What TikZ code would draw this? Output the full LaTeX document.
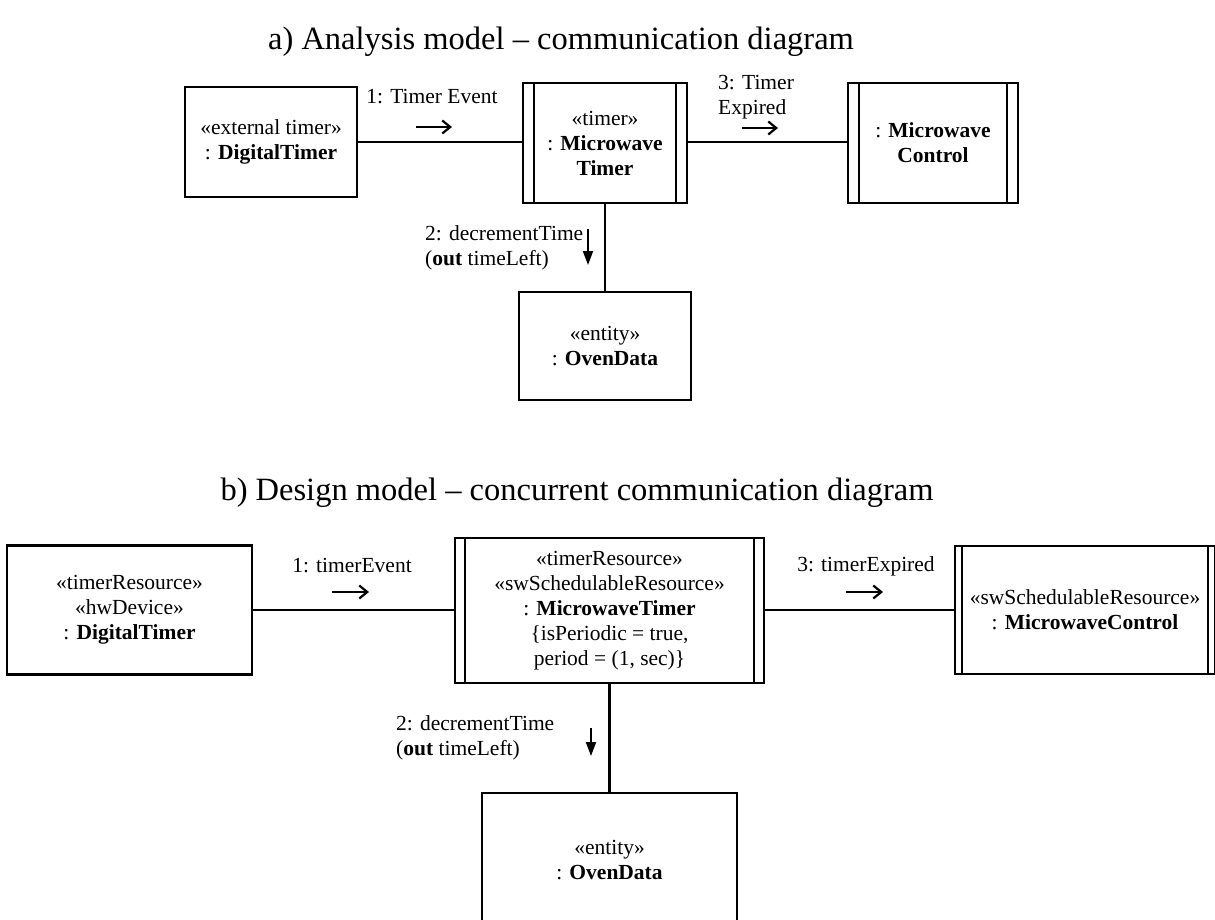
\documentclass[tikz,border=0pt]{standalone}
\usepackage{fontspec}
\setmainfont{Liberation Serif}
\usetikzlibrary{arrows.meta}

\begin{document}
\begin{tikzpicture}[x=1pt,y=-1pt,
  txt/.style={font=\fontsize{21.5}{25}\selectfont},
  obj/.style={draw, line width=2.2pt, rectangle, inner sep=0pt, align=center, txt},
  active/.style={obj, path picture={
      \draw[line width=2.2pt]
        ([xshift=#1]path picture bounding box.north west) -- ([xshift=#1]path picture bounding box.south west)
        ([xshift=-#1]path picture bounding box.north east) -- ([xshift=-#1]path picture bounding box.south east);}},
  active/.default=11pt,
  lab/.style={txt, inner sep=0pt, align=left},
  title/.style={font=\fontsize{32.5}{36}\selectfont, inner sep=0pt},
  conn/.style={line width=2.2pt},
  msgh/.style={line width=2.2pt, -{Straight Barb[length=8pt,width=13pt,line width=2.2pt]}},
  msgv/.style={line width=2pt, -{Triangle[length=14pt,width=10pt]}}
]
\useasboundingbox (0,0) rectangle (1215,920);
\clip (0,0) rectangle (1215,920);

% ---------- a) analysis model ----------
\node[title] (ta) at (561,42) {a) Analysis model -- communication diagram};

\node[obj, minimum width=172pt, minimum height=110pt] (adt) at (271,142)
  {«external timer»\\: \textbf{DigitalTimer}};
\node[active=11pt, minimum width=164pt, minimum height=120pt] (amt) at (605,143)
  {«timer»\\: \textbf{Microwave}\\\textbf{Timer}};
\node[active=11pt, minimum width=170pt, minimum height=120pt] (amc) at (933,143)
  {: \textbf{Microwave}\\\textbf{Control}};
\node[obj, minimum width=172pt, minimum height=108pt] (aod) at (605,346)
  {«entity»\\: \textbf{OvenData}};

\draw[conn] (adt.east) -- (adt.east -| amt.west);
\draw[conn] (amt.east |- adt.east) -- (amc.west |- adt.east);
\draw[conn] (amt.south) -- (aod.north);

\node[lab] (la1) at (432,97) {1: Timer Event};
\coordinate (a1s) at (416,127);
\coordinate (a1e) at (452,127);
\draw[msgh] (a1s) -- (a1e);

\node[lab, anchor=west] (la3) at (718,97) {3: Timer\\Expired};
\coordinate (a3s) at (742,128);
\coordinate (a3e) at (778,128);
\draw[msgh] (a3s) -- (a3e);

\node[lab, anchor=west] (la2) at (425,248) {2: decrementTime\\(\textbf{out} timeLeft)};
\coordinate (a2s) at (588,229);
\coordinate (a2e) at (588,265);
\draw[msgv] (a2s) -- (a2e);

% ---------- b) design model ----------
\node[title] (tb) at (577,493) {b) Design model -- concurrent communication diagram};

\node[obj, minimum width=245pt, minimum height=129pt] (bdt) at (129.5,610)
  {«timerResource»\\«hwDevice»\\: \textbf{DigitalTimer}};
\node[active=10pt, minimum width=309pt, minimum height=145pt] (bmt) at (609.5,610.5)
  {«timerResource»\\«swSchedulableResource»\\: \textbf{MicrowaveTimer}\\\{isPeriodic = true,\\period = (1, sec)\}};
\node[active=7pt, minimum width=260pt, minimum height=128pt] (bmc) at (1085,610)
  {«swSchedulableResource»\\: \textbf{MicrowaveControl}};
\node[obj, minimum width=255pt, minimum height=134pt] (bod) at (609.5,860)
  {«entity»\\: \textbf{OvenData}};

\draw[conn] (bdt.east) -- (bdt.east -| bmt.west);
\draw[conn] (bmt.east |- bmc.west) -- (bmc.west);
\draw[conn] (bmt.south) -- (bod.north);

\node[lab] (lb1) at (352,566) {1: timerEvent};
\coordinate (b1s) at (332,592);
\coordinate (b1e) at (369,592);
\draw[msgh] (b1s) -- (b1e);

\node[lab] (lb3) at (866,566) {3: timerExpired};
\coordinate (b3s) at (846,592);
\coordinate (b3e) at (883,592);
\draw[msgh] (b3s) -- (b3e);

\node[lab, anchor=west] (lb2) at (396,738) {2: decrementTime\\(\textbf{out} timeLeft)};
\coordinate (b2s) at (591,728);
\coordinate (b2e) at (591,756);
\draw[msgv] (b2s) -- (b2e);
\end{tikzpicture}
\end{document}
